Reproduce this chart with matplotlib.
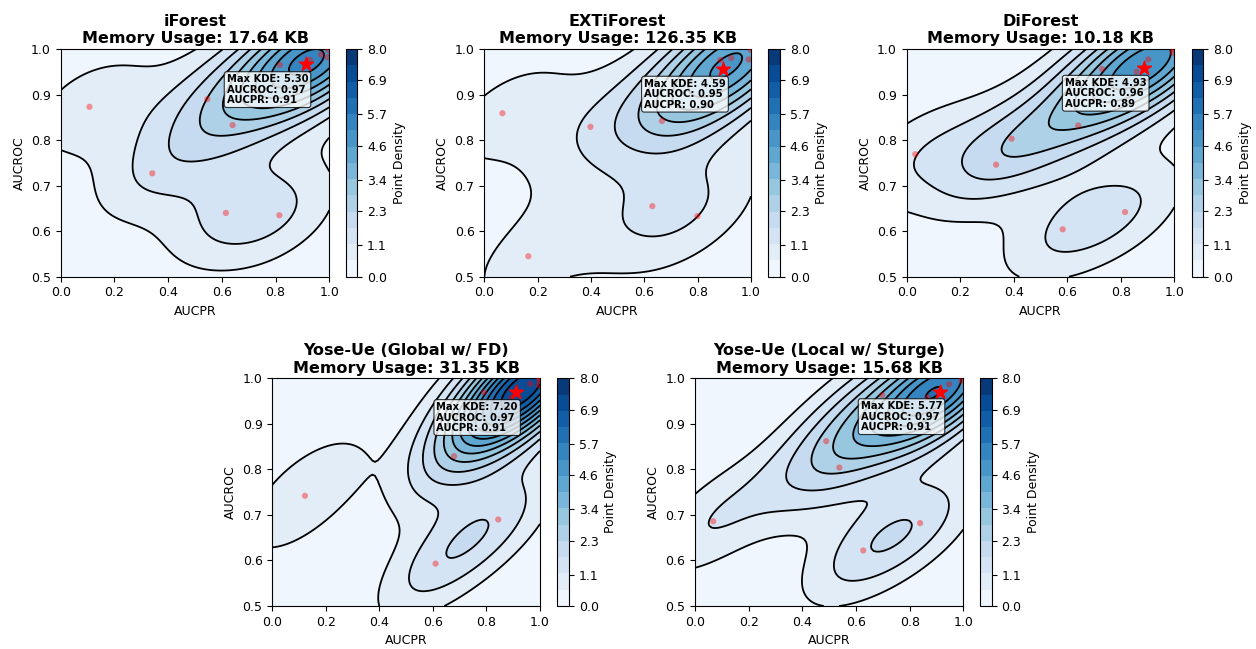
import numpy as np
import matplotlib
matplotlib.use("Agg")
import matplotlib.pyplot as plt

# ---------------- data ----------------
titles = ["iForest", "EXTiForest", "DiForest",
          "Yose-Ue (Global w/ FD)", "Yose-Ue (Local w/ Sturge)"]
memory_kb = ["17.64", "126.35", "10.18", "31.35", "15.68"]

# (AUCPR, AUCROC) per dataset; the last entries sit under the star / in the corner
iforest_aucpr = [0.107, 0.341, 0.546, 0.640, 0.615, 0.814, 0.816, 0.928, 0.969, 0.993, 0.996, 0.910]
iforest_aucroc = [0.873, 0.727, 0.890, 0.833, 0.640, 0.635, 0.965, 0.976, 0.988, 0.982, 0.998, 0.965]

ext_aucpr = [0.068, 0.165, 0.398, 0.666, 0.630, 0.799, 0.885, 0.926, 0.991, 0.999, 0.896, 0.900]
ext_aucroc = [0.859, 0.545, 0.829, 0.842, 0.655, 0.633, 0.976, 0.980, 0.977, 0.998, 0.956, 0.955]

di_aucpr = [0.032, 0.334, 0.392, 0.641, 0.583, 0.816, 0.730, 0.903, 0.859, 0.994, 0.998, 0.890]
di_aucroc = [0.769, 0.746, 0.803, 0.832, 0.604, 0.642, 0.956, 0.977, 0.950, 0.992, 0.999, 0.958]

glob_aucpr = [0.122, 0.610, 0.844, 0.679, 0.791, 0.892, 0.963, 0.994, 0.998, 0.910, 1.000]
glob_aucroc = [0.742, 0.593, 0.690, 0.829, 0.969, 0.958, 0.988, 0.985, 0.996, 0.970, 1.000]

loc_aucpr = [0.068, 0.489, 0.538, 0.627, 0.839, 0.698, 0.867, 0.947, 0.993, 0.915, 0.910]
loc_aucroc = [0.686, 0.862, 0.804, 0.622, 0.682, 0.963, 0.958, 0.987, 0.995, 0.970, 0.968]

# max-density location (star) and the values printed in the boxes
star_x = [0.913, 0.896, 0.887, 0.909, 0.913]
star_y = [0.966, 0.956, 0.958, 0.969, 0.971]
max_kde_label = ["5.30", "4.59", "4.93", "7.20", "5.77"]
aucroc_label = ["0.97", "0.95", "0.96", "0.97", "0.97"]
aucpr_label = ["0.91", "0.90", "0.89", "0.91", "0.91"]

cbar_ticks = [0.0, 1.1, 2.3, 3.4, 4.6, 5.7, 6.9, 8.0]

series = [(iforest_aucpr, iforest_aucroc), (ext_aucpr, ext_aucroc),
          (di_aucpr, di_aucroc), (glob_aucpr, glob_aucroc),
          (loc_aucpr, loc_aucroc)]


def gaussian_kde_eval(x, y, gx, gy):
    data = np.vstack([x, y])
    n = data.shape[1]
    factor = n ** (-1.0 / 6.0)
    cov = np.cov(data) * factor ** 2
    inv = np.linalg.inv(cov)
    norm = 1.0 / (2 * np.pi * np.sqrt(np.linalg.det(cov)) * n)
    pts = np.vstack([gx.ravel(), gy.ravel()])
    z = np.zeros(pts.shape[1])
    for i in range(n):
        d = pts - data[:, i:i + 1]
        q = np.einsum("ij,ik,kj->j", d, inv, d)
        z += np.exp(-0.5 * q)
    return (z * norm).reshape(gx.shape)


W, H = 1256, 649
fig = plt.figure(figsize=(W / 100, H / 100), dpi=100)

# axes positions in pixels: (left, right, top, bottom, cbar_left, cbar_right)
pos = [
    (60.7, 329.3, 49, 276.7, 345.7, 357.3),
    (484.3, 751.0, 49, 276.7, 768.3, 780.0),
    (906.7, 1174.3, 49, 276.7, 1191.7, 1203.3),
    (272.3, 540.0, 378.3, 606.0, 557.3, 569.0),
    (695.0, 963.3, 378.3, 606.0, 980.0, 991.7),
]

levels = np.linspace(0, 8, 15)
gxv = np.linspace(0, 1, 100)
gyv = np.linspace(0.5, 1, 100)
GX, GY = np.meshgrid(gxv, gyv)

for i, (xs, ys) in enumerate(series):
    l, r, t, b, cl, cr = pos[i]
    ax = fig.add_axes([l / W, 1 - b / H, (r - l) / W, (b - t) / H])
    cax = fig.add_axes([cl / W, 1 - b / H, (cr - cl) / W, (b - t) / H])
    Z = gaussian_kde_eval(np.array(xs), np.array(ys), GX, GY)
    cf = ax.contourf(GX, GY, Z, levels=levels, cmap="Blues")
    ax.contour(GX, GY, Z, levels=levels[1:], colors="black", linewidths=1.3)
    ax.scatter(xs, ys, s=20, color="red", alpha=0.4, edgecolors="none", zorder=3)
    ax.scatter([star_x[i]], [star_y[i]], marker="*", s=110,
               color="red", zorder=4)
    ax.annotate(f"Max KDE: {max_kde_label[i]}\nAUCROC: {aucroc_label[i]}\nAUCPR: {aucpr_label[i]}",
                xy=(star_x[i], star_y[i]), xytext=(-57, -7),
                textcoords="offset points", ha="left", va="top",
                fontsize=7.2, fontweight="bold", zorder=5, linespacing=1.05,
                bbox=dict(boxstyle="round,pad=0.25", fc="white", ec="black",
                          lw=0.8, alpha=0.8))
    ax.set_xlim(0, 1)
    ax.set_ylim(0.5, 1)
    ax.set_xticks([0, 0.2, 0.4, 0.6, 0.8, 1.0])
    ax.set_yticks([0.5, 0.6, 0.7, 0.8, 0.9, 1.0])
    ax.tick_params(labelsize=9)
    ax.set_xlabel("AUCPR", fontsize=9)
    ax.set_ylabel("AUCROC", fontsize=9)
    ax.set_title(f"{titles[i]}\nMemory Usage: {memory_kb[i]} KB",
                 fontsize=11.5, fontweight="bold", pad=4)
    cb = fig.colorbar(cf, cax=cax, ticks=cbar_ticks)
    cb.ax.set_yticklabels([f"{v:.1f}" for v in cbar_ticks])
    cb.ax.tick_params(labelsize=9)
    cb.set_label("Point Density", fontsize=9)

fig.savefig("out.png", dpi=100)
